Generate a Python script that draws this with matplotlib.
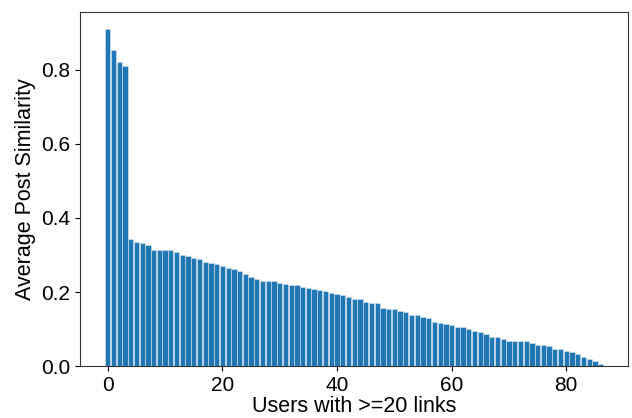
import numpy as np
import matplotlib
matplotlib.use('Agg')
import matplotlib.pyplot as plt

matplotlib.rcParams['font.family'] = 'Liberation Sans'

# average similarity per user, sorted high to low
similarity = [
    0.910, 0.854, 0.821, 0.811, 0.342, 0.334, 0.333, 0.328, 0.313, 0.313,
    0.313, 0.313, 0.308, 0.299, 0.298, 0.293, 0.290, 0.281, 0.278, 0.275,
    0.270, 0.266, 0.263, 0.256, 0.250, 0.241, 0.234, 0.230, 0.230, 0.230,
    0.224, 0.223, 0.219, 0.219, 0.215, 0.212, 0.209, 0.205, 0.202, 0.197,
    0.194, 0.193, 0.188, 0.181, 0.181, 0.174, 0.171, 0.171, 0.158, 0.155,
    0.155, 0.150, 0.147, 0.139, 0.138, 0.132, 0.129, 0.118, 0.117, 0.115,
    0.110, 0.106, 0.106, 0.099, 0.095, 0.092, 0.088, 0.080, 0.078, 0.072,
    0.068, 0.068, 0.067, 0.067, 0.062, 0.058, 0.057, 0.054, 0.047, 0.047,
    0.040, 0.037, 0.034, 0.024, 0.018, 0.015, 0.005,
]
users = np.arange(len(similarity))

fig = plt.figure(figsize=(6.32, 4.18), dpi=100)
ax = fig.add_axes([0.127, 0.124, 0.867, 0.847])
ax.bar(users, similarity, width=0.92, color='#1f77b4', edgecolor='#d8e6f2', linewidth=0.4)
ax.set_xlabel('Users with >=20 links', fontsize=15.5, labelpad=1)
ax.set_ylabel('Average Post Similarity', fontsize=15.5)
ax.tick_params(labelsize=15)
for s in ax.spines.values():
    s.set_color('#333333')
fig.savefig('out.png', dpi=100)
